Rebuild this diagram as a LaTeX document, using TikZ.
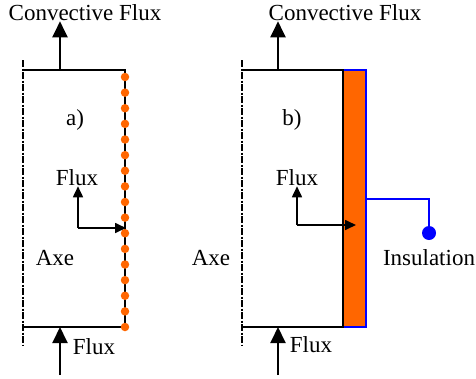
\documentclass[tikz,border=0pt]{standalone}
\usepackage{fontspec}
\setmainfont{Liberation Serif}
\usetikzlibrary{positioning,arrows.meta}
\definecolor{insorange}{RGB}{255,102,0}

\begin{document}
\begin{tikzpicture}[x=1pt, y=-1pt,
every node/.style={font=\fontsize{23}{27}\selectfont, inner sep=0pt},
wallline/.style={line width=2pt},
axeline/.style={line width=2pt, dash pattern=on 7pt off 1.5pt on 2pt off 1.5pt},
bigarrow/.style={line width=2pt, -{Triangle[length=16pt,width=15pt]}},
smallarrow/.style={line width=1.7pt, -{Triangle[length=11pt,width=10pt]}},
dotnode/.style={circle, fill=insorange, minimum size=8.5pt, inner sep=0pt},
insnode/.style={rectangle, draw=blue, fill=insorange, line width=2.5pt, minimum width=23pt, minimum height=257pt},
]
\useasboundingbox (0,0) rectangle (476,378);

%Nodes
\node (convA) at (85,13) {Convective Flux};
\node (convB) at (345,13) {Convective Flux};
\node (labA) at (75,120) {a)};
\node (labB) at (292,120) {b)};
\node (fluxA) at (77,178) {Flux};
\node (fluxB) at (297,178) {Flux};
\node (axeA) at (55,258) {Axe};
\node (axeB) at (211,258) {Axe};
\node (inA) at (94,347) {Flux};
\node (inB) at (311,345) {Flux};
\node[insnode] (insul) at (354.5,198.5) {};
\node[circle, fill=blue, minimum size=14pt] (insdot) at (429,233) {};
\node (inslabel) at (429,258) {Insulation};

\coordinate (topA) at (60,70);
\coordinate (topB) at (278,70);
\coordinate (baseA) at (60,327);
\coordinate (baseB) at (278,327);
\coordinate (tailA) at (60,375);
\coordinate (tailB) at (278,375);
\coordinate (cornerA) at (78,228);
\coordinate (cornerB) at (297,225);
\coordinate (wallA) at (126,228);
\coordinate (wallB) at (356,225);

%Walls
\draw[axeline] (23,60) -- (23,345);
\draw[axeline] (242,60) -- (242,345);
\draw[wallline] (23,70) -- (125,70) -- (125,327) -- (23,327);
\draw[wallline] (242,70) -- (343,70) -- (343,327) -- (242,327);
\foreach \i in {0,...,16}
  \node[dotnode] (dotA\i) at (125,{77+\i*15.625}) {};

%Lines
\draw[bigarrow] (topA) -- (topA |- convA.south);
\draw[bigarrow] (topB) -- (topB |- convB.south);
\draw[bigarrow] (tailA) -- (baseA);
\draw[bigarrow] (tailB) -- (baseB);
\draw[smallarrow] (cornerA) -- (cornerA |- fluxA.south);
\draw[smallarrow] (cornerA) -- (wallA);
\draw[smallarrow] (cornerB) -- (cornerB |- fluxB.south);
\draw[smallarrow] (cornerB) -- (wallB);
\draw[blue, line width=2pt] (insul.east) -| (insdot.north);

\end{tikzpicture}
\end{document}
